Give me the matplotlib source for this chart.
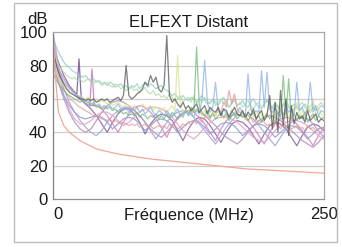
import numpy as np
import matplotlib
matplotlib.use("Agg")
import matplotlib.pyplot as plt
from matplotlib.patches import Rectangle

plt.rcParams['font.family'] = ['Liberation Sans', 'DejaVu Sans']

# frequency grids (MHz)
freq_coarse = np.arange(0, 251, 5)
freq_fine = np.arange(0, 250.1, 2.5)

# smooth "bathtub" pairs (dB), one value every 5 MHz
bath_purple = [92, 82, 74, 68, 64, 60, 57, 54, 50, 45, 40, 46, 51, 54, 54, 51, 46, 39, 45, 49,
               51, 50, 47, 41, 35, 42, 47, 49, 48, 44, 39, 34, 40, 45, 47, 46, 43, 38, 33, 39,
               44, 46, 45, 42, 37, 32, 38, 43, 45, 44, 41]
bath_pink = [86, 78, 72, 67, 63, 60, 57, 56, 56, 54, 50, 45, 40, 46, 51, 55, 56, 55, 52, 48,
             43, 37, 44, 49, 52, 53, 52, 49, 45, 40, 35, 42, 47, 50, 51, 50, 47, 43, 38, 33,
             40, 45, 48, 49, 48, 45, 41, 37, 32, 38, 43]
bath_lavender = [100, 80, 66, 58, 52, 47, 43, 40, 38, 41, 46, 50, 53, 55, 55, 53, 50, 46, 41, 36,
                 41, 46, 50, 52, 53, 52, 49, 45, 41, 37, 33, 38, 43, 47, 50, 51, 50, 48, 44, 40,
                 36, 32, 37, 42, 46, 48, 49, 48, 45, 41, 37]
bath_mauve = [82, 70, 60, 52, 46, 42, 40, 42, 47, 52, 56, 58, 59, 58, 56, 53, 50, 46, 42, 39,
              37, 40, 44, 48, 51, 53, 53, 52, 50, 47, 44, 40, 37, 35, 33, 36, 40, 44, 47, 49,
              50, 49, 47, 44, 41, 38, 35, 33, 31, 34, 38]
bath_rose = [98, 76, 62, 54, 48, 45, 45, 47, 50, 52, 52, 50, 47, 44, 46, 49, 52, 54, 55, 55,
             54, 52, 49, 45, 41, 38, 36, 39, 43, 46, 48, 49, 49, 48, 46, 43, 40, 37, 35, 34,
             37, 41, 44, 46, 47, 47, 46, 44, 41, 38, 36]
bath_violet = [80, 70, 62, 56, 52, 49, 48, 49, 50, 49, 46, 42, 45, 48, 49, 48, 45, 41, 44, 47,
               48, 47, 44, 40, 43, 46, 47, 46, 43, 39, 42, 45, 46, 45, 42, 38, 41, 44, 45, 44,
               41, 37, 40, 43, 44, 43, 40, 36, 39, 42, 43]

# resonance spikes on two of the pairs (MHz, dB)
spike_purple_f = [22, 24, 26]
spike_purple_db = [63, 84, 61]
spike_pink_f = [34, 36, 38]
spike_pink_db = [56, 78, 56]

# noisy pairs (dB), one value every 2.5 MHz
noise_teal = [97, 92, 88, 85, 82, 80, 79, 77, 76, 75,
              74, 73, 74, 72, 71, 72, 70, 71, 69, 70,
              68, 70, 69, 67, 68, 69, 67, 68, 66, 68,
              67, 69, 66, 68, 70, 67, 69, 68, 66, 67,
              68, 66, 65, 64, 62, 63, 61, 60, 62, 60,
              59, 61, 60, 58, 60, 62, 59, 57, 58, 60,
              58, 56, 59, 61, 57, 55, 58, 60, 56, 57,
              59, 56, 55, 58, 60, 57, 55, 54, 57, 59,
              56, 54, 57, 55, 53, 56, 58, 55, 53, 54,
              56, 53, 55, 57, 54, 52, 55, 53, 54, 56, 55]
noise_lightgreen = [88, 84, 80, 78, 76, 74, 73, 72, 73, 71,
                    72, 70, 71, 72, 70, 69, 71, 70, 68, 69,
                    70, 68, 67, 69, 68, 66, 67, 65, 66, 67,
                    65, 66, 64, 65, 67, 64, 63, 65, 62, 63,
                    61, 62, 60, 63, 61, 59, 60, 62, 58, 60,
                    61, 58, 62, 57, 60, 58, 61, 59, 57, 60,
                    56, 58, 60, 57, 59, 55, 57, 59, 56, 58,
                    55, 57, 59, 56, 54, 57, 58, 55, 57, 60,
                    57, 55, 58, 56, 54, 57, 59, 56, 55, 57,
                    54, 56, 58, 55, 53, 56, 57, 54, 56, 58, 55]
noise_black = [90, 82, 76, 72, 69, 66, 64, 63, 62, 61,
               60, 60, 59, 60, 59, 60, 58, 59, 60, 59,
               60, 58, 59, 60, 61, 59, 62, 80, 62, 60,
               61, 63, 64, 66, 70, 68, 74, 70, 73, 66,
               64, 68, 98, 62, 58, 60, 57, 55, 58, 54,
               56, 53, 55, 57, 52, 54, 56, 51, 55, 53,
               52, 55, 50, 54, 53, 49, 52, 55, 51, 50,
               53, 49, 52, 50, 54, 48, 51, 53, 47, 50,
               62, 42, 58, 40, 65, 44, 60, 38, 56, 45,
               52, 48, 50, 46, 53, 47, 49, 51, 46, 48, 47]
noise_blue = [85, 80, 76, 73, 70, 68, 66, 65, 63, 62,
              61, 60, 58, 59, 57, 58, 56, 57, 55, 56,
              55, 56, 54, 55, 57, 54, 53, 55, 52, 54,
              53, 55, 52, 54, 51, 53, 55, 52, 50, 53,
              52, 50, 53, 51, 49, 52, 54, 50, 51, 53,
              50, 52, 49, 54, 51, 60, 83, 58, 52, 55,
              70, 53, 50, 54, 51, 49, 53, 50, 52, 55,
              52, 50, 75, 54, 51, 53, 52, 77, 55, 76,
              54, 52, 55, 51, 53, 50, 56, 52, 54, 51,
              70, 53, 55, 51, 54, 70, 52, 56, 50, 53, 52]
noise_yellow = [80, 76, 73, 70, 68, 66, 65, 64, 63, 62,
                62, 61, 60, 61, 60, 59, 60, 58, 59, 58,
                57, 58, 56, 57, 58, 56, 55, 57, 56, 55,
                56, 54, 55, 57, 55, 54, 56, 53, 55, 54,
                53, 55, 52, 54, 56, 53, 86, 55, 52, 54,
                53, 51, 54, 52, 55, 50, 53, 51, 49, 52,
                50, 53, 51, 48, 52, 50, 54, 49, 51, 53,
                50, 48, 52, 55, 49, 51, 53, 50, 48, 52,
                55, 51, 49, 53, 57, 50, 52, 48, 55, 51,
                58, 50, 53, 49, 56, 52, 60, 50, 54, 51, 50]
noise_green = [75, 72, 69, 67, 65, 63, 62, 61, 60, 59,
               58, 59, 57, 58, 56, 57, 55, 56, 54, 55,
               54, 55, 53, 54, 52, 53, 51, 52, 50, 51,
               50, 52, 49, 51, 50, 48, 50, 49, 51, 48,
               50, 48, 51, 49, 52, 50, 48, 51, 49, 53,
               50, 55, 52, 91, 56, 52, 50, 53, 49, 51,
               48, 50, 52, 49, 51, 47, 50, 52, 48, 50,
               49, 51, 47, 50, 52, 48, 50, 46, 49, 51,
               48, 50, 46, 52, 49, 74, 50, 72, 48, 51,
               47, 50, 48, 52, 46, 49, 51, 47, 50, 48, 49]
noise_red = [84, 78, 73, 69, 66, 63, 61, 59, 58, 56,
             55, 54, 53, 52, 51, 50, 50, 49, 48, 48,
             47, 48, 46, 47, 46, 45, 46, 45, 44, 45,
             44, 45, 43, 44, 45, 43, 44, 42, 43, 44,
             43, 44, 42, 45, 43, 44, 42, 43, 45, 44,
             46, 44, 47, 45, 48, 46, 49, 50, 48, 52,
             50, 54, 52, 58, 55, 65, 57, 63, 54, 52,
             50, 48, 47, 49, 46, 48, 45, 47, 46, 44,
             45, 43, 46, 44, 42, 45, 43, 44, 42, 43,
             44, 42, 43, 41, 44, 42, 43, 41, 42, 43, 42]

# limit line
limit_f = [0, 2, 5, 10, 15, 25, 40, 60, 90, 120, 150, 180, 210, 250]
limit_db = [100, 75, 52, 44, 40, 35, 30, 27, 24, 22, 20, 18, 17, 15.5]

y_ticks = [0, 20, 40, 60, 80, 100]
x_ticks = [0, 250]

fig = plt.figure(figsize=(3.42, 2.47), dpi=100)
ax = fig.add_axes([0.155, 0.194, 0.792, 0.676])

fig.patches.append(Rectangle((0.041, 0.02), 0.944, 0.968, transform=fig.transFigure,
                             fill=False, edgecolor='#bdbdbd', linewidth=1.0))

lw = 0.9
bath = [(bath_purple, '#8a6aa8'), (bath_pink, '#d38ac6'), (bath_lavender, '#a8a8d8'),
        (bath_mauve, '#b896b8'), (bath_rose, '#e6a6c6'), (bath_violet, '#9aa0d4')]
for vals, col in bath:
    ax.plot(freq_coarse, vals, color=col, lw=lw, alpha=0.9)
ax.plot(spike_purple_f, spike_purple_db, color='#8a6aa8', lw=lw)
ax.plot(spike_pink_f, spike_pink_db, color='#d38ac6', lw=lw)

noise = [(noise_teal, '#8ccac6'), (noise_lightgreen, '#b0dca8'), (noise_red, '#e29a9a'),
         (noise_yellow, '#dbe28a'), (noise_green, '#72b878'), (noise_blue, '#8cb2e6'),
         (noise_black, '#555555')]
for vals, col in noise:
    ax.plot(freq_fine, vals, color=col, lw=lw, alpha=0.75)

ax.plot(limit_f, limit_db, color='#f2a898', lw=lw)

ax.set_xlim(0, 250)
ax.set_ylim(0, 100)
ax.set_yticks(y_ticks)
ax.set_xticks(x_ticks)
ax.set_xticklabels([str(v) for v in x_ticks])
ax.tick_params(length=0, labelsize=12, colors='#1a1a1a')
ax.tick_params(axis='y', pad=4)
ax.tick_params(axis='x', pad=6)
ax.xaxis.get_majorticklabels()[0].set_ha('left')
for y in y_ticks[1:-1]:
    ax.axhline(y, color='#cfcfcf', lw=0.9, zorder=0)
for s in ax.spines.values():
    s.set_color('#a8a8a8')
    s.set_linewidth(0.9)
ax.spines['left'].set_color('#808080')
ax.spines['bottom'].set_color('#909090')

ax.set_title('ELFEXT Distant', fontsize=12, pad=4, color='#1a1a1a')
ax.set_xlabel('Fréquence (MHz)', fontsize=12, color='#1a1a1a')
ax.xaxis.set_label_coords(0.5, -0.055)
fig.text(37 / 342, 1 - 19 / 247, 'dB', fontsize=12, ha='center', va='center', color='#1a1a1a')

fig.savefig('out.png', dpi=100)
